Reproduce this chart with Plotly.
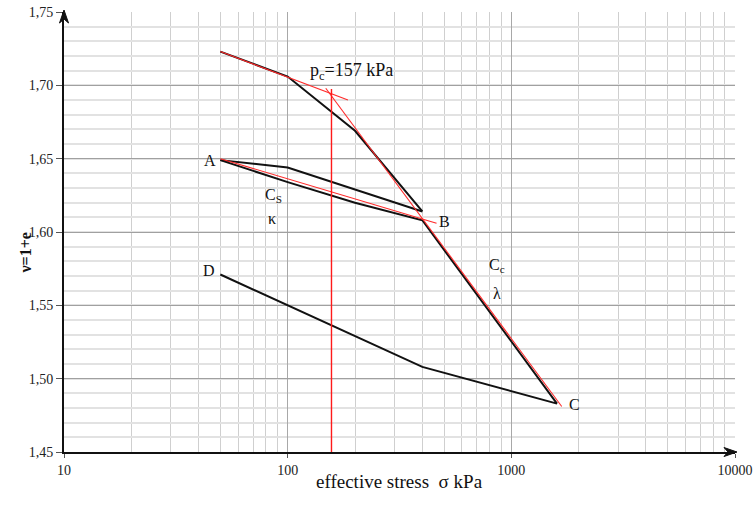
import math
import plotly.graph_objects as go

# Oedometer test: specific volume v = 1 + e against effective stress (log scale)
stress_loading = [50, 100, 200, 400]
v_loading = [1.723, 1.706, 1.669, 1.614]

stress_unload1 = [400, 200, 100, 50]
v_unload1 = [1.614, 1.629, 1.644, 1.649]

stress_reload = [50, 100, 200, 400, 1600]
v_reload = [1.649, 1.634, 1.620, 1.608, 1.483]

stress_unload2 = [1600, 400, 50]
v_unload2 = [1.483, 1.508, 1.571]

# Construction lines (Casagrande)
recomp_x = [50, 186]
recomp_y = [1.723, 1.690]
virgin_x = [148, 1680]
virgin_y = [1.698, 1.481]
swell_x = [50, 463]
swell_y = [1.650, 1.606]
pc_value = 157
pc_x = [pc_value, pc_value]
pc_y = [1.45, 1.6975]

y_ticks = [1.45, 1.50, 1.55, 1.60, 1.65, 1.70, 1.75]
y_tick_text = ["1,45", "1,50", "1,55", "1,60", "1,65", "1,70", "1,75"]
x_ticks = [10, 100, 1000, 10000]
x_tick_text = ["10", "100", "1000", "10000"]

SERIF = "Liberation Serif"
BLACK = "#111111"
RED = "#ff2a2a"
TICK_FONT = dict(family=SERIF, size=14, color="#222222")

fig = go.Figure()

for xs, ys in [(stress_loading, v_loading), (stress_unload1, v_unload1),
               (stress_reload, v_reload), (stress_unload2, v_unload2)]:
    fig.add_trace(go.Scatter(x=xs, y=ys, mode="lines",
                             line=dict(color=BLACK, width=2), hoverinfo="skip"))

for xs, ys in [(recomp_x, recomp_y), (virgin_x, virgin_y), (swell_x, swell_y)]:
    fig.add_trace(go.Scatter(x=xs, y=ys, mode="lines",
                             line=dict(color=RED, width=1.1), hoverinfo="skip"))
fig.add_trace(go.Scatter(x=pc_x, y=pc_y, mode="lines",
                         line=dict(color="#ff1a1a", width=1.4), hoverinfo="skip"))

# Point and slope labels (annotation x on a log axis is given as log10)
labels = [
    ("A", 45, 1.649), ("B", 505, 1.6075), ("C", 1923, 1.4827), ("D", 44.5, 1.574),
    ("C<sub>S</sub>", 86, 1.625), ("κ", 85, 1.6095),
    ("C<sub>c</sub>", 865, 1.5775), ("λ", 863, 1.558),
]
for text, x, y in labels:
    fig.add_annotation(x=math.log10(x), y=y, xref="x", yref="y", text=text,
                       showarrow=False,
                       font=dict(family=SERIF, size=16, color=BLACK))

fig.add_annotation(x=math.log10(192), y=1.7095, xref="x", yref="y",
                   text=f"p<sub>c</sub>={pc_value} kPa", showarrow=False,
                   font=dict(family=SERIF, size=18, color=BLACK))

# Axis titles
fig.add_annotation(xref="paper", yref="y", x=0, y=1.5856, xshift=-49,
                   text="<b>ν=1+e</b>", textangle=-90, showarrow=False,
                   font=dict(family=SERIF, size=16, color=BLACK))
fig.add_annotation(xref="paper", yref="paper", x=0.5, y=0, yshift=-42,
                   text="effective stress  σ kPa", showarrow=False,
                   font=dict(family=SERIF, size=19, color=BLACK))

# Arrow heads at the ends of both axes
fig.add_shape(type="path", xref="paper", yref="paper",
              xsizemode="pixel", ysizemode="pixel", xanchor=0, yanchor=1,
              path="M -4.5,-11 L 0,2 L 4.5,-11 L 0,-7 Z",
              fillcolor=BLACK, line=dict(color=BLACK, width=1))
fig.add_shape(type="path", xref="paper", yref="paper",
              xsizemode="pixel", ysizemode="pixel", xanchor=1, yanchor=0,
              path="M -11,4.5 L 2,0 L -11,-4.5 L -7,0 Z",
              fillcolor=BLACK, line=dict(color=BLACK, width=1))

minor_x = [m * 10 ** k for k in range(1, 4) for m in range(2, 10)]

fig.update_layout(
    width=753, height=505,
    margin=dict(l=64, r=18, t=12, b=53),
    paper_bgcolor="white", plot_bgcolor="white",
    showlegend=False,
    font=dict(family=SERIF, color=BLACK),
)
fig.update_xaxes(
    type="log", range=[1, 4], automargin=False,
    tickmode="array", tickvals=x_ticks, ticktext=x_tick_text,
    tickfont=TICK_FONT,
    showgrid=True, gridcolor="#a8a8a8", gridwidth=1,
    minor=dict(tickmode="array", tickvals=minor_x, showgrid=True,
               gridcolor="#cfcfcf", gridwidth=1),
    showline=True, linecolor=BLACK, linewidth=2,
    ticks="outside", ticklen=4, tickcolor="#555555", zeroline=False,
)
fig.update_yaxes(
    range=[1.45, 1.75], automargin=False,
    tickmode="array", tickvals=y_ticks, ticktext=y_tick_text,
    tickfont=TICK_FONT,
    showgrid=True, gridcolor="#a0a0a0", gridwidth=1,
    minor=dict(dtick=0.01, showgrid=True, gridcolor="#e2e2e2", gridwidth=2),
    showline=True, linecolor=BLACK, linewidth=2,
    ticks="outside", ticklen=6, tickcolor="#555555", zeroline=False,
)

fig.write_html("out.html")
